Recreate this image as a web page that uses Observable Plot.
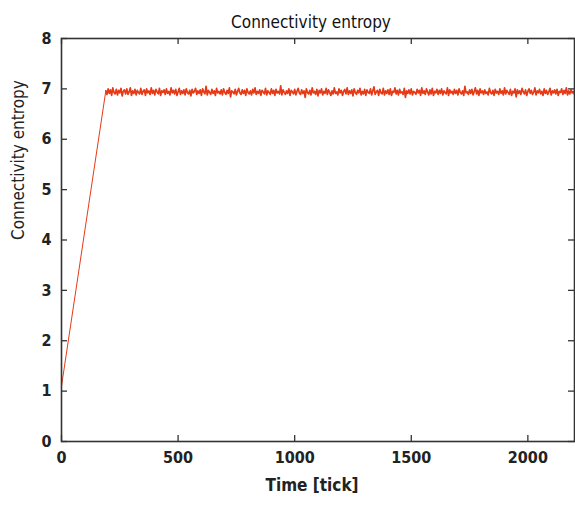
<!DOCTYPE html>
<html>
<head>
<meta charset="utf-8">
<script src="https://cdn.jsdelivr.net/npm/d3@7"></script>
<script src="https://cdn.jsdelivr.net/npm/@observablehq/plot@0.6"></script>
<style>
  html, body { margin: 0; padding: 0; background: #fff; }
</style>
</head>
<body>
<div id="chart"></div>
<script>
// ---- data ----
const title = "Connectivity entropy";
const xLabel = "Time [tick]";
const yLabel = "Connectivity entropy";
const xTicks = [0, 500, 1000, 1500, 2000];
const yTicks = [0, 1, 2, 3, 4, 5, 6, 7, 8];

// ramp: initial point
const rampTimes = [0];
const rampValues = [1.1];

// plateau: sampled every 5 ticks from t = 190 to t = 2200
const plateauStart = 190;
const plateauStep = 5;
const plateauValues = [
  6.96,6.89,7.00,6.91,6.98,6.87,7.02,6.93,6.90,6.99,6.88,6.97,6.92,7.01,6.86,6.95,6.98,6.90,7.00,6.89,
  6.94,7.02,6.87,6.96,6.91,6.99,6.88,6.97,6.93,6.90,7.01,6.89,6.95,6.98,6.87,7.00,6.92,6.96,6.89,7.02,
  6.91,6.97,6.88,6.99,6.94,6.90,7.01,6.87,6.96,6.93,6.98,6.89,7.00,6.91,6.95,6.88,7.02,6.92,6.97,6.90,
  6.99,6.87,6.94,7.01,6.89,6.96,6.91,6.98,6.88,7.00,6.93,6.90,6.97,6.86,6.99,6.92,6.95,7.01,6.89,6.96,
  6.91,6.98,6.87,7.00,6.94,6.90,7.05,6.88,6.97,6.93,6.89,6.99,6.91,6.96,6.87,7.01,6.92,6.95,6.90,6.98,
  6.88,7.00,6.93,6.89,6.97,6.91,7.02,6.84,6.96,6.94,6.90,6.99,6.88,6.95,7.01,6.92,6.89,6.98,6.91,6.97,
  6.87,7.00,6.93,6.90,6.96,6.88,6.99,6.92,7.02,6.89,6.95,6.91,6.98,6.87,6.97,6.94,6.90,7.01,6.88,6.96,
  6.93,6.89,7.00,6.91,6.97,6.87,6.99,6.92,6.95,6.90,7.06,6.88,6.98,6.93,6.89,6.96,6.91,7.00,6.87,6.97,
  6.94,6.90,6.99,6.88,6.95,7.01,6.92,6.89,6.98,6.91,6.96,6.83,7.00,6.93,6.90,6.97,6.88,7.02,6.92,6.95,
  6.89,6.99,6.86,6.97,6.92,7.00,6.88,6.95,6.91,7.01,6.89,6.98,6.93,6.87,6.96,6.90,7.02,6.91,6.94,6.88,
  7.00,6.92,6.97,6.87,6.95,6.99,6.90,7.02,6.89,6.96,6.91,6.98,6.86,7.00,6.93,6.89,6.97,6.92,7.01,6.88,
  6.95,6.90,6.99,6.87,6.98,6.93,6.91,7.00,6.88,6.96,7.04,6.89,6.94,6.97,6.87,6.99,6.92,6.90,7.01,6.88,
  6.96,6.91,6.98,6.89,7.00,6.87,6.95,6.93,7.02,6.90,6.97,6.88,6.99,6.92,6.94,6.89,7.01,6.83,6.96,6.91,
  6.98,6.90,7.00,6.88,6.95,6.93,6.89,6.99,6.92,6.97,6.87,7.02,6.91,6.96,6.89,7.00,6.94,6.88,6.98,6.90,
  7.01,6.87,6.95,6.92,6.99,6.89,6.97,6.91,7.00,6.88,6.96,6.93,6.90,7.02,6.87,6.98,6.92,6.95,6.89,6.99,
  6.91,6.97,6.88,7.00,6.93,6.90,6.96,6.87,7.05,6.92,6.94,6.89,6.98,6.91,6.99,6.88,6.95,7.02,6.90,6.97,
  6.87,7.00,6.92,6.96,6.89,6.98,6.91,6.94,6.88,7.01,6.93,6.90,6.97,6.87,6.99,6.92,6.95,6.89,7.00,6.91,
  6.96,6.88,7.02,6.90,6.97,6.93,6.89,6.99,6.87,6.95,6.92,7.00,6.84,6.98,6.91,6.96,6.89,7.01,6.94,6.90,
  6.98,6.87,6.95,7.00,6.91,6.97,6.89,6.93,7.02,6.88,6.96,6.92,6.99,6.90,6.95,6.87,7.00,6.91,6.97,6.89,
  6.94,7.01,6.88,6.96,6.92,6.98,6.90,6.99,6.87,6.95,6.93,7.00,6.89,6.97,6.91,7.02,6.88,6.96,6.90,6.98,
  6.92,6.95,6.89
];

const plateau = plateauValues.map((v, i) => ({t: plateauStart + i * plateauStep, v}));
const ramp = rampTimes.map((t, i) => ({t, v: rampValues[i]})).concat([plateau[0]]);

const font = "'DejaVu Sans Condensed', 'DejaVu Sans', sans-serif";
const W = 575, H = 509, mT = 38, mB = 68, mL = 61, mR = 1;
const frameW = W - mL - mR, frameH = H - mT - mB, tickLen = 6;
const red = "#e63a17";

const chart = Plot.plot({
  width: W,
  height: H,
  marginTop: mT,
  marginBottom: mB,
  marginLeft: mL,
  marginRight: mR,
  style: {fontFamily: font, background: "#fff", color: "#222"},
  x: {domain: [0, 2200], label: null},
  y: {domain: [0, 8], label: null},
  marks: [
    Plot.line(ramp, {x: "t", y: "v", stroke: red, strokeWidth: 1}),
    Plot.line(plateau, {x: "t", y: "v", stroke: red, strokeWidth: 1.7}),
    // inward ticks on all four sides
    Plot.ruleX(xTicks, {x: d => d, insetTop: frameH - tickLen, stroke: "#333", strokeWidth: 1.3}),
    Plot.ruleX(xTicks, {x: d => d, insetBottom: frameH - tickLen, stroke: "#333", strokeWidth: 1.3}),
    Plot.ruleY(yTicks, {y: d => d, insetRight: frameW - tickLen, stroke: "#333", strokeWidth: 1.3}),
    Plot.ruleY(yTicks, {y: d => d, insetLeft: frameW - tickLen, stroke: "#333", strokeWidth: 1.3}),
    Plot.frame({stroke: "#333", strokeWidth: 1.6}),
    Plot.axisX({anchor: "bottom", ticks: xTicks, tickSize: 0, tickPadding: 10, tickFormat: d => String(d), fontSize: 16, fontWeight: "bold"}),
    Plot.axisY({anchor: "left", ticks: yTicks, tickSize: 0, tickPadding: 10, tickFormat: d => String(d), fontSize: 16, fontWeight: "bold"}),
    Plot.text([title], {frameAnchor: "top", dy: -23, dx: -7, text: d => d, fontSize: 17, fill: "#111"}),
    Plot.text([xLabel], {frameAnchor: "bottom", dy: 49, dx: -6, text: d => d, fontSize: 17, fontWeight: "bold", fill: "#222"}),
    Plot.text([yLabel], {frameAnchor: "left", dx: -43, dy: 0, rotate: -90, text: d => d, fontSize: 17, fill: "#222"})
  ]
});
document.getElementById("chart").appendChild(chart);
</script>
</body>
</html>
